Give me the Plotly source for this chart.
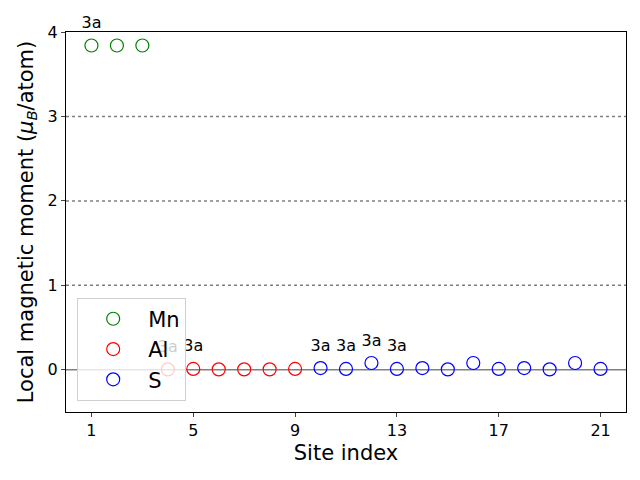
import plotly.graph_objects as go

mn_sites = [1, 2, 3]
mn_vals = [3.84, 3.84, 3.84]
al_sites = [4, 5, 6, 7, 8, 9]
al_vals = [0.005, 0.01, 0.005, 0.005, 0.005, 0.01]
s_sites = [10, 11, 12, 13, 14, 15, 16, 17, 18, 19, 20, 21]
s_vals = [0.02, 0.01, 0.08, 0.01, 0.02, 0.005, 0.08, 0.01, 0.02, 0.005, 0.08, 0.01]
label_sites = [1, 4, 5, 10, 11, 12, 13]
label_text = "3a"
x_ticks = [1, 5, 9, 13, 17, 21]
y_ticks = [0, 1, 2, 3, 4]
dotted_levels = [1, 2, 3]

all_sites = mn_sites + al_sites + s_sites
all_vals = mn_vals + al_vals + s_vals
lookup = dict(zip(all_sites, all_vals))

fig = go.Figure()
for name, xs, ys, col in [("Mn", mn_sites, mn_vals, "green"),
                          ("Al", al_sites, al_vals, "red"),
                          ("S", s_sites, s_vals, "blue")]:
    fig.add_trace(go.Scatter(x=xs, y=ys, mode="markers", name=name,
                             marker=dict(symbol="circle-open", size=13, color=col,
                                         line=dict(width=1.2, color=col))))

# site labels as a text trace (drawn beneath the legend, like the reference)
fig.add_trace(go.Scatter(x=label_sites, y=[lookup[s] for s in label_sites],
                         mode="markers+text", text=[label_text] * len(label_sites),
                         textposition="top center", showlegend=False, hoverinfo="skip",
                         marker=dict(size=20, opacity=0),
                         textfont=dict(size=16, color="black"), cliponaxis=False))

shapes = []
for lv in dotted_levels:
    shapes.append(dict(type="line", xref="paper", x0=0, x1=1, yref="y", y0=lv, y1=lv,
                       line=dict(color="gray", width=1.5, dash="dot"), layer="below"))
shapes.append(dict(type="line", xref="paper", x0=0, x1=1, yref="y", y0=0, y1=0,
                   line=dict(color="gray", width=1.5), layer="below"))

fig.update_layout(
    width=640, height=480,
    margin=dict(l=66, r=14, t=32, b=68),
    paper_bgcolor="white", plot_bgcolor="white",
    font=dict(family="DejaVu Sans", color="black"),
    shapes=shapes,
    showlegend=True,
    legend=dict(x=0.02, y=0.03, xanchor="left", yanchor="bottom",
                bgcolor="rgba(255,255,255,0.8)", bordercolor="#d0d0d0", borderwidth=1,
                font=dict(size=21), itemwidth=60),
    xaxis=dict(range=[0, 22], tickvals=x_ticks, ticks="outside", ticklen=4,
               showgrid=False, zeroline=False, showline=True, linecolor="black",
               mirror=True, tickfont=dict(size=16),
               title=dict(text="Site index", font=dict(size=21), standoff=6)),
    yaxis=dict(range=[-0.5, 4], tickvals=y_ticks, ticks="outside", ticklen=4,
               showgrid=False, zeroline=False, showline=True, linecolor="black",
               mirror=True, tickfont=dict(size=16),
               title=dict(text="Local magnetic moment (<i>μ<sub>B</sub></i>/atom)",
                          font=dict(size=21), standoff=8)),
)

fig.write_html("out.html")
